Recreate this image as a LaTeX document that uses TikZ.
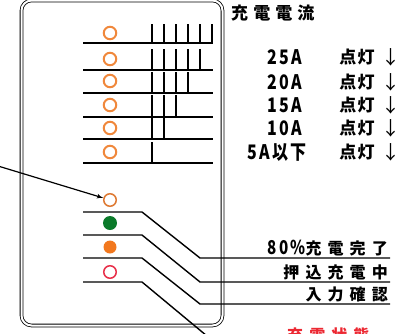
\documentclass[tikz,border=0pt]{standalone}
\usepackage{fontspec}
\setmainfont{Noto Sans CJK JP}
\newfontfamily\headfont[LetterSpace=30]{Noto Sans CJK JP}
\newfontfamily\labelfont[LetterSpace=38]{Noto Sans CJK JP}
\newfontfamily\numfont[FakeStretch=0.8, LetterSpace=12]{Noto Sans CJK JP}
\newfontfamily\litfont[LetterSpace=8]{Noto Sans CJK JP}
\usetikzlibrary{shapes, arrows}

\definecolor{ringorange}{RGB}{240,136,60}
\definecolor{ringbrown}{RGB}{222,122,52}
\definecolor{ledgreen}{RGB}{10,122,42}
\definecolor{ledorange}{RGB}{242,120,30}
\definecolor{ledred}{RGB}{232,48,74}
\definecolor{notered}{RGB}{236,40,50}

\begin{document}
\begin{tikzpicture}[x=1pt, y=-1pt]

\tikzstyle{connector} = [draw, -latex']
\tikzstyle{wire} = [draw, line width=1.4pt]
\tikzstyle{ring} = [circle, draw=ringorange, line width=2pt, minimum size=12.5pt, inner sep=0pt]
\tikzstyle{lamp} = [circle, minimum size=14pt, inner sep=0pt]
\tikzstyle{current} = [inner sep=0pt, font=\numfont\bfseries\fontsize{20}{20}\selectfont]
\tikzstyle{lit} = [inner sep=0pt, font=\litfont\bfseries\fontsize{17}{17}\selectfont]
\tikzstyle{down} = [inner sep=0pt, font=\fontsize{19}{19}\selectfont]
\tikzstyle{state} = [inner sep=2pt, anchor=south east, font=\labelfont\bfseries\fontsize{16}{16}\selectfont]

\useasboundingbox (0,0) rectangle (399,333);

% panel
\draw [double, double distance=2pt, line width=0.8pt, rounded corners=10pt] (21.5,0.5) rectangle (222.5,325.5);

% charge current lamps
\node [ring] at (110,33) (led1) {};
\node [ring] at (110,59) (led2) {};
\node [ring] at (110,81) (led3) {};
\node [ring] at (110,105) (led4) {};
\node [ring] at (110,128) (led5) {};
\node [ring] at (110,152) (led6) {};

\draw [wire] (83,43) -- (213,43);
\draw [wire] (83,70) -- (213,70);
\draw [wire] (83,93) -- (213,93);
\draw [wire] (83,117) -- (213,117);
\draw [wire] (83,139) -- (213,139);
\draw [wire] (83,163) -- (213,163);

\draw [wire] (152,24) -- (152,43) (164,24) -- (164,43) (176,24) -- (176,43)
  (188,24) -- (188,43) (200,24) -- (200,43) (212,24) -- (212,43);
\draw [wire] (152,49) -- (152,70) (164,49) -- (164,70) (176,49) -- (176,70)
  (188,49) -- (188,70) (200,49) -- (200,70);
\draw [wire] (152,72) -- (152,93) (164,72) -- (164,93) (176,72) -- (176,93)
  (188,72) -- (188,93);
\draw [wire] (152,95) -- (152,117) (164,95) -- (164,117) (176,95) -- (176,117);
\draw [wire] (152,118) -- (152,139) (164,118) -- (164,139);
\draw [wire] (152,142) -- (152,163);

\node [anchor=west, inner sep=0pt, font=\headfont\bfseries\fontsize{17}{17}\selectfont] at (231,13) (title) {充電電流};

\node [current] at (285,57) (a25) {25A};
\node [current] at (285,82) (a20) {20A};
\node [current] at (285,105) (a15) {15A};
\node [current] at (285,128) (a10) {10A};
\node [current] at (277,152) (a5) {5A以下};

\node [lit] at (357,57) (on25) {点灯};
\node [lit] at (357,82) (on20) {点灯};
\node [lit] at (357,105) (on15) {点灯};
\node [lit] at (357,128) (on10) {点灯};
\node [lit] at (357,152) (on5) {点灯};

\node [down] at (391,57) (dn25) {↓};
\node [down] at (391,82) (dn20) {↓};
\node [down] at (391,105) (dn15) {↓};
\node [down] at (391,128) (dn10) {↓};
\node [down] at (391,152) (dn5) {↓};

% status lamps
\node [ring, draw=ringbrown, line width=1.5pt] at (110,200) (led7) {};
\node [lamp, fill=ledgreen] at (110,223) (led8) {};
\node [lamp, fill=ledorange, minimum size=13pt] at (110,247) (led9) {};
\node [ring, draw=ledred, line width=1.5pt] at (110,272) (led10) {};

\node [state] at (390,258) (full) {{\numfont\fontsize{19}{19}\selectfont 80\%}充電完了};
\node [state] at (390,282) (push) {押込充電中};
\node [state] at (390,304) (input) {入力確認};

\coordinate (w1) at (83,212);
\coordinate (w2) at (83,235);
\coordinate (w3) at (83,258);
\coordinate (w4) at (83,282);
\coordinate (w5) at (207,336);
\coordinate (ptr) at (-2,166);

\draw [wire] (w1) -- (142,212) -- (200,258) -- (full.south east);
\draw [wire] (w2) -- (142,235) -- (200,282) -- (push.south east);
\draw [wire] (w3) -- (142,258) -- (200,304) -- (input.south east);
\draw [wire] (w4) -- (142,282) -- (w5);

\path [connector, line width=1.2pt] (ptr) -- (led7);

\node [anchor=north west, inner sep=0pt, text=notered, font=\labelfont\bfseries\fontsize{16}{16}\selectfont] at (287,328) (note) {充電状態};

\end{tikzpicture}
\end{document}
